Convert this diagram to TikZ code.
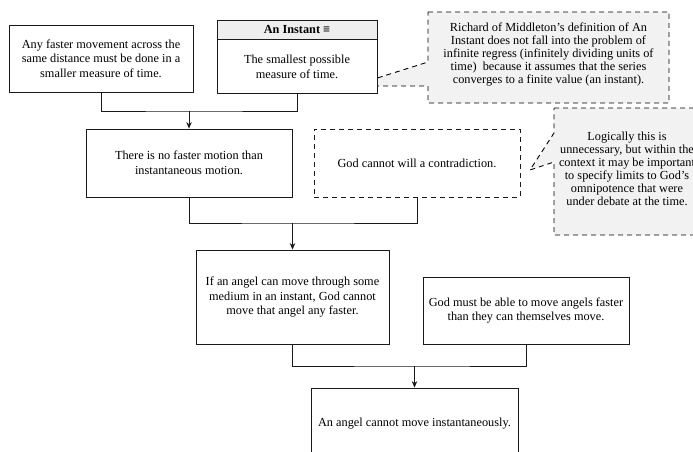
\documentclass[tikz,border=0pt]{standalone}
\usepackage{fontspec}
\setmainfont{Liberation Serif}
\usetikzlibrary{arrows.meta}
\definecolor{calloutgray}{HTML}{F2F2F2}
\definecolor{headgray}{HTML}{EEEEEE}
\definecolor{linecol}{HTML}{1A1A1A}
\newcommand{\boxfont}{\fontsize{12.3}{14.5}\selectfont}
\newcommand{\notefont}{\fontsize{12.3}{13}\selectfont}
\begin{document}
\begin{tikzpicture}[x=1pt,y=-1pt,
  box/.style={draw=linecol, fill=white, line width=0.8pt, align=center, inner sep=0pt, font=\boxfont},
  dbox/.style={box, line width=0.9pt, dash pattern=on 5pt off 4pt},
  notebox/.style={draw=black, fill=calloutgray, line width=0.9pt, dash pattern=on 5pt off 4pt},
  notetext/.style={align=center, inner sep=0pt, font=\notefont},
  conn/.style={draw=linecol, line width=0.8pt},
  arr/.style={conn, -{Stealth[length=6.5pt,width=5.5pt]}}]
\path[use as bounding box] (0,0) rectangle (693,452);
\clip (0,0) rectangle (693,452);
% callout shapes
\draw[notebox] (428,12) -- (669,12) -- (669,103) -- (428,103) -- (428,86) -- (352,86) -- (428,62) -- cycle;
\node[notetext] (N1) at (548.5,54) {Richard of Middleton's definition of An\\Instant does not fall into the problem of\\infinite regress (infinitely dividing units of\\time)~ because it assumes that the series\\converges to a finite value (an instant).};
\draw[notebox] (554,108) -- (705,108) -- (705,235) -- (554,235) -- (554,162) -- (530,170) -- (554,133) -- cycle;
\node[notetext] (N2) at (627,169) {Logically this is\\unnecessary, but within the\\context it may be important\\to specify limits to God's\\omnipotence that were\\under debate at the time.};
% boxes
\node[box, minimum width=184pt, minimum height=67pt] (A) at (101,58.5) {Any faster movement across the\\same distance must be done in a\\smaller measure of time.};
\node[box, minimum width=160pt, minimum height=73pt] (B) at (297,56.5) {};
\node[box, fill=headgray, minimum width=160pt, minimum height=19pt, font=\boxfont\bfseries] (Bh) at (297,29.5) {An Instant ≡};
\node[notetext, font=\boxfont] (Bt) at (297,67) {The smallest possible\\measure of time.};
\node[box, minimum width=206pt, minimum height=68pt] (C) at (189,163) {There is no faster motion than\\instantaneous motion.};
\node[dbox, minimum width=206pt, minimum height=68pt] (D) at (417,163) {God cannot will a contradiction.};
\node[box, minimum width=193pt, minimum height=94pt] (E) at (292.5,297) {If an angel can move through some\\medium in an instant, God cannot\\move that angel any faster.};
\node[box, minimum width=206pt, minimum height=67pt] (F) at (526,310.5) {God must be able to move angels faster\\than they can themselves move.};
\node[box, minimum width=207pt, minimum height=72pt] (G) at (414.5,424) {An angel cannot move instantaneously.};
% connectors
\coordinate (j1) at (189,111);
\coordinate (j2) at (292.5,223);
\coordinate (j3) at (414.5,366);
\draw[conn] (A.south) |- (j1) -| (B.south);
\draw[arr] (j1) -- (C.north);
\draw[conn] (C.south) |- (j2) -| (D.south);
\draw[arr] (j2) -- (E.north);
\draw[conn] (E.south) |- (j3) -| (F.south);
\draw[arr] (j3) -- (G.north);
\end{tikzpicture}
\end{document}
